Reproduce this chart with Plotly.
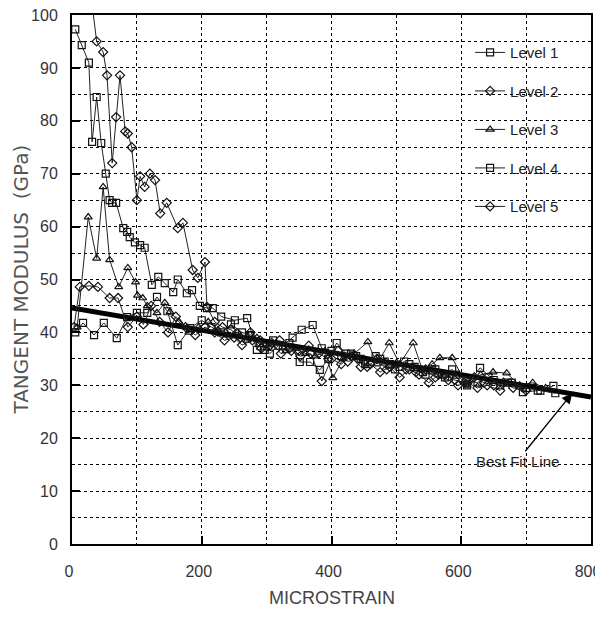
import plotly.graph_objects as go

# ---- data ----
level1_x = [5, 15, 26, 31, 38, 45, 52, 58, 62, 68, 79, 85, 89, 97, 105, 112, 123, 133, 143, 156, 163, 177, 185, 197, 208, 217, 230, 251, 270, 285, 297, 310, 325, 340, 354, 371, 385, 400, 415, 430, 445, 460, 475, 490, 505, 520, 541, 555, 570, 586, 609, 629, 650, 672, 695, 718, 742]
level1_y = [97.3, 94.3, 91, 76, 84.5, 75.8, 70, 65, 64.5, 64.5, 59.7, 59, 58, 57, 56.5, 56, 49, 50.5, 49.3, 47.6, 50, 47.4, 48, 45, 44.6, 44.6, 43, 42.3, 42.7, 36.7, 36.7, 38.5, 37.5, 39, 40.5, 41.4, 37, 36.5, 35.5, 36, 35, 34.5, 35, 34, 33.5, 34, 32.5, 32.8, 32, 33, 30, 33.3, 31, 30.5, 28.7, 29, 29.9]

level2_x = [25, 38, 48, 54, 62, 68, 74, 82, 86, 92, 100, 105, 112, 120, 128, 136, 146, 163, 171, 186, 194, 205, 208, 220, 232, 245, 260, 275, 290, 305, 320, 335, 350, 365, 380, 395, 410, 425, 440, 455, 470, 485, 500, 515, 530, 545, 560, 575, 590, 605, 620, 635, 650, 665, 680, 700]
level2_y = [108, 95, 93, 88.6, 72, 80.7, 88.6, 78, 77.6, 75, 65, 69.5, 67.5, 70, 68.8, 62.5, 64.5, 59.7, 60.7, 51.8, 50.3, 53.3, 44.8, 42, 41, 40.5, 39, 40, 38.5, 37.5, 38.5, 37, 36.5, 37.5, 36, 35, 36.5, 34.5, 35, 33.5, 35, 33, 34, 33, 32.5, 33, 31.5, 32, 31, 30.5, 31.5, 30.5, 30, 30.5, 29.5, 29]

level3_x = [8, 25, 38, 48, 58, 72, 86, 98, 101, 109, 116, 131, 143, 151, 165, 180, 195, 210, 225, 240, 255, 270, 285, 300, 315, 330, 345, 360, 375, 390, 402, 418, 435, 456, 470, 489, 505, 526, 540, 555, 567, 586, 609, 630, 649, 670, 690, 710, 730]
level3_y = [41, 61.8, 54, 67.5, 53.7, 48.6, 52.2, 49.5, 47, 46.5, 45, 43.7, 45.6, 43.9, 42, 40, 41, 42, 40.5, 39.5, 40, 38.5, 39, 37, 38, 36.5, 37, 36, 35.5, 36.5, 31.4, 35, 36, 38.2, 34, 38, 34, 38, 33, 34, 35.2, 35.2, 30, 32, 32.5, 32.3, 30, 30.5, 29.5]

level4_x = [5, 17, 34, 49, 69, 85, 100, 116, 131, 147, 163, 182, 200, 215, 230, 245, 262, 275, 290, 305, 318, 335, 351, 367, 382, 395, 408, 422, 438, 452, 468, 482, 498, 512, 528, 545, 560, 575, 592, 608, 625, 642, 660, 678, 700, 722, 745]
level4_y = [40, 41.8, 39.5, 41.8, 38.9, 42.9, 43.7, 43.7, 46.7, 44, 37.6, 40.8, 42.3, 41, 40, 41.5, 40, 39.5, 38, 36, 37.5, 38, 34.4, 34.4, 32.9, 35, 38, 36, 35.5, 34, 35.5, 34.5, 33, 34.5, 33.5, 32, 33, 31.5, 32, 31, 30.5, 31.5, 30, 30.5, 29.5, 29, 28.5]

level5_x = [3, 12, 26, 40, 58, 71, 86, 100, 110, 122, 135, 148, 160, 175, 190, 205, 220, 235, 250, 262, 278, 292, 308, 322, 338, 352, 368, 385, 400, 415, 430, 445, 460, 475, 490, 505, 520, 535, 550, 565, 580, 595, 610, 625, 640, 660]
level5_y = [41, 48.6, 48.8, 48.6, 46.5, 46.5, 41, 43, 41.5, 45, 42, 40, 43, 41, 39.5, 41, 40, 38.5, 39, 37.6, 38.5, 37, 38, 36, 36.5, 35.5, 36, 30.8, 35, 34, 35.5, 33.5, 34, 32.5, 33.5, 31.5, 33, 32, 30.5, 32, 31, 30, 30.5, 29.5, 30, 29]

fit_x = [0, 800]
fit_y = [44.6, 27.8]

series_names = ["Level 1", "Level 2", "Level 3", "Level 4", "Level 5"]
series_x = [level1_x, level2_x, level3_x, level4_x, level5_x]
series_y = [level1_y, level2_y, level3_y, level4_y, level5_y]
series_symbols = ["square-open", "diamond-open", "triangle-up-open", "square-open", "diamond-open"]

x_tick_vals = [0, 200, 400, 600, 800]
y_tick_vals = [0, 10, 20, 30, 40, 50, 60, 70, 80, 90, 100]

NARROW = "Liberation Sans, Arial, sans-serif"

fig = go.Figure()

fig.add_trace(go.Scatter(
    x=fit_x, y=fit_y, mode="lines", showlegend=False,
    line=dict(color="black", width=5), hoverinfo="skip"))

for name, xs, ys, sym in zip(series_names, series_x, series_y, series_symbols):
    fig.add_trace(go.Scatter(
        x=xs, y=ys, mode="lines+markers", name=name, legendgroup=name,
        line=dict(color="#222222", width=1),
        marker=dict(symbol=sym, size=7, color="#111111", line=dict(width=1.2, color="#111111")),
        cliponaxis=True))

axis_common = dict(
    showline=True, linecolor="black", linewidth=2, mirror=True,
    showgrid=True, gridcolor="black", gridwidth=1, griddash="dot",
    zeroline=False, ticks="inside", tickcolor="black", ticklen=8, tickwidth=2,
    tickfont=dict(family=NARROW, size=16, color="#333333"),
    automargin=False, ticklabeloverflow="allow",
)

fig.update_xaxes(range=[0, 800], tickvals=x_tick_vals, ticklabelstandoff=12, ticklabelshift=-3,
                 minor=dict(dtick=100, showgrid=True, gridcolor="black", griddash="dot",
                            gridwidth=1, ticks=""),
                 **axis_common)
fig.update_yaxes(range=[0, 100], tickvals=y_tick_vals, ticklabelstandoff=9,
                 minor=dict(dtick=5, showgrid=True, gridcolor="black", griddash="dot",
                            gridwidth=1, ticks=""),
                 **axis_common)

fig.add_annotation(xref="paper", yref="paper", x=0, y=0.5, xshift=-52, xanchor="center", yanchor="middle",
                   text="TANGENT MODULUS  (GPa)", textangle=-90, showarrow=False,
                   font=dict(family="DejaVu Sans, Liberation Sans, sans-serif", size=20, color="#555555"))
fig.add_annotation(xref="paper", yref="paper", x=0.5, y=0, yshift=-54,
                   text="MICROSTRAIN", showarrow=False, yanchor="middle",
                   font=dict(family=NARROW, size=18, color="#444444"))

fig.add_annotation(x=771, y=28.5, text="Best Fit Line", showarrow=True,
                   arrowhead=2, arrowsize=1.6, arrowwidth=1.3, arrowcolor="black",
                   ax=-55, ay=68, font=dict(family=NARROW, size=15, color="#222222"))

fig.update_layout(
    width=603, height=618,
    margin=dict(l=64, r=20, t=7, b=82),
    paper_bgcolor="white", plot_bgcolor="white",
    showlegend=True,
    legend=dict(x=0.767, y=0.96, xanchor="left", yanchor="top",
                bgcolor="rgba(0,0,0,0)", tracegroupgap=16,
                font=dict(family=NARROW, size=15, color="#222222"), itemwidth=30),
    hovermode=False,
)

fig.write_html("out.html", config={"displayModeBar": False})
